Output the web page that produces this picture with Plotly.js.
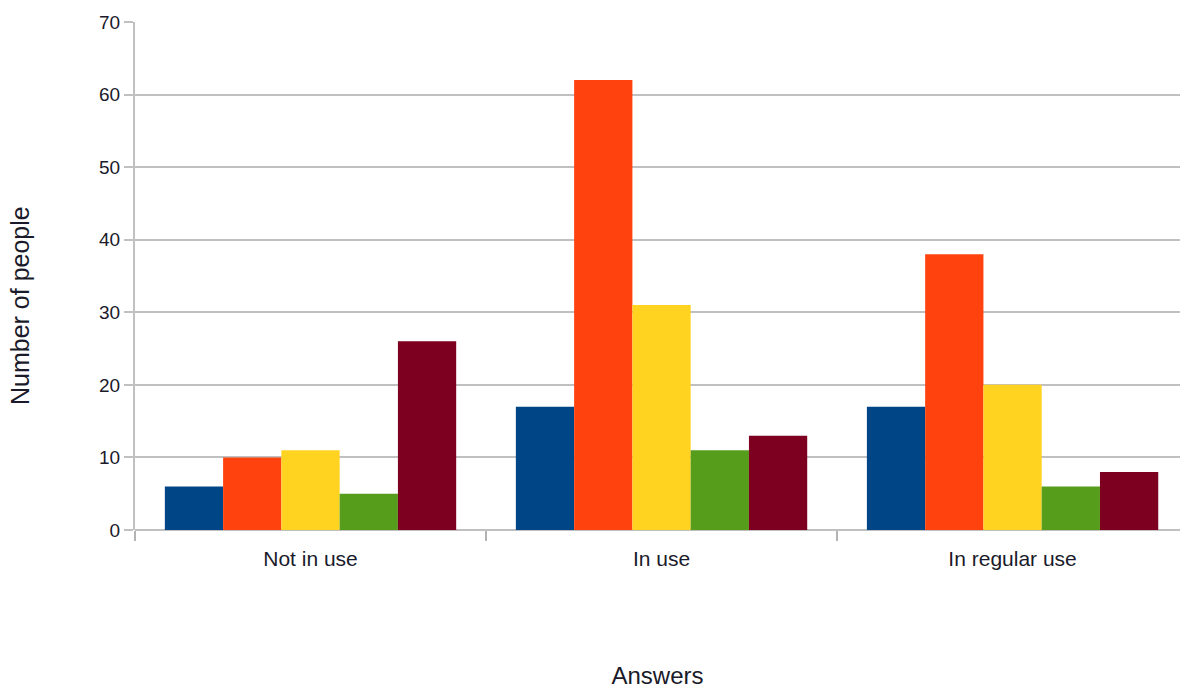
<!DOCTYPE html>
<html>
<head>
<meta charset="utf-8">
<script src="https://cdn.plot.ly/plotly-3.0.1.min.js"></script>
<style>html,body{margin:0;padding:0;background:#fff;}#chart{width:1180px;height:689px;}</style>
</head>
<body>
<div id="chart"></div>
<script>
const categories = ["Not in use", "In use", "In regular use"];
const seriesNames = ["Series 1", "Series 2", "Series 3", "Series 4", "Series 5"];
const series1 = [6, 17, 17];
const series2 = [10, 62, 38];
const series3 = [11, 31, 20];
const series4 = [5, 11, 6];
const series5 = [26, 13, 8];
const colors = ["#004586", "#ff420e", "#ffd320", "#579d1c", "#7e0021"];
const xTitle = "Answers";
const yTitle = "Number of people";

const allSeries = [series1, series2, series3, series4, series5];
const traces = allSeries.map((vals, i) => ({
  type: "bar",
  x: categories,
  y: vals,
  name: seriesNames[i],
  marker: {color: colors[i], line: {width: 0}},
  hoverinfo: "x+y+name"
}));

const layout = {
  width: 1180,
  height: 689,
  margin: {l: 135, r: 0, t: 22, b: 159},
  paper_bgcolor: "#ffffff",
  plot_bgcolor: "#ffffff",
  showlegend: false,
  barmode: "group",
  bargap: 0.17,
  bargroupgap: 0,
  font: {family: "Liberation Sans, Arial, sans-serif", size: 20, color: "#1a1a2a"},
  xaxis: {
    range: [-0.5, 2.477],
    showgrid: false,
    ticks: "outside",
    tickson: "boundaries",
    ticklen: 10,
    tickcolor: "#b3b3b3",
    tickwidth: 2,
    showline: false,
    zeroline: false,
    ticklabelstandoff: 14,
    tickfont: {size: 21},
    title: {text: xTitle, font: {size: 24}, standoff: 98}
  },
  yaxis: {
    range: [0, 70],
    dtick: 10,
    showgrid: true,
    gridcolor: "#c0c0c0",
    gridwidth: 2,
    zeroline: true,
    zerolinecolor: "#c0c0c0",
    zerolinewidth: 2,
    showline: true,
    linecolor: "#c0c0c0",
    linewidth: 2,
    ticks: "outside",
    ticklen: 9,
    tickcolor: "#c0c0c0",
    tickwidth: 2,
    tickfont: {size: 19}
  },
  annotations: [{
    text: yTitle,
    xref: "paper", yref: "paper",
    x: (20 - 135) / 1045, y: (530 - 306) / 508,
    xanchor: "center", yanchor: "middle",
    textangle: -90,
    showarrow: false,
    font: {size: 25}
  }]
};

Plotly.newPlot("chart", traces, layout, {displayModeBar: false, staticPlot: true});
</script>
</body>
</html>
